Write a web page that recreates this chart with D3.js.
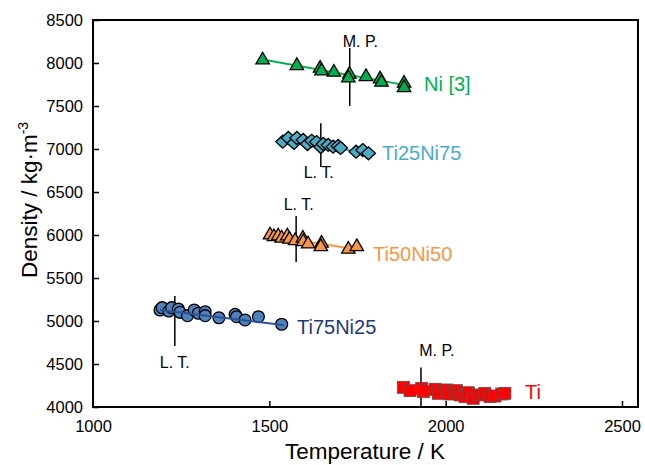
<!DOCTYPE html>
<html><head><meta charset="utf-8">
<script src="https://cdn.jsdelivr.net/npm/d3@7"></script>
<style>body{margin:0;background:#fff}svg{font-family:"Liberation Sans",Arial,sans-serif}</style>
</head><body><svg id="c" width="645" height="465"></svg>
<script>
const xTicks=[1000,1500,2000,2500];
const yTicks=[4000,4500,5000,5500,6000,6500,7000,7500,8000,8500];

const niT=[1481,1578,1644,1648,1683,1727,1724,1774,1814,1818,1882,1882];
const niD=[8035,7969,7938,7907,7892,7869,7826,7841,7814,7776,7764,7713];

const t25T=[1538,1554,1570,1578,1596,1608,1620,1634,1646,1653,1667,1681,1695,1702,1746,1765,1781];
const t25D=[7085,7128,7070,7128,7105,7058,7095,7081,7023,7058,7047,7027,7035,7012,6969,6988,6950];

const t50T=[1502,1513,1525,1535,1551,1557,1573,1595,1596,1610,1648,1646,1724,1748];
const t50D=[6000,5980,5988,5962,5988,5950,5934,5962,5922,5895,5903,5864,5834,5864];

const t75T=[1190,1196,1215,1223,1242,1247,1268,1287,1299,1318,1318,1357,1403,1407,1431,1469,1535];
const t75D=[5128,5155,5116,5155,5140,5101,5062,5128,5090,5108,5062,5038,5078,5050,5012,5050,4962];

const tiT=[1880,1899,1932,1937,1970,1979,2003,2012,2031,2041,2055,2064,2078,2092,2111,2126,2140,2159,2168];
const tiD=[4229,4190,4217,4178,4206,4159,4198,4151,4190,4140,4120,4166,4101,4140,4159,4120,4128,4151,4159];

// fit lines (endpoints)
const niFit=[[1481,8040],[1890,7740]];
const t25Fit=[[1538,7090],[1790,6950]];
const t50Fit=[[1500,5990],[1745,5835]];
const t75Fit=[[1190,5128],[1540,4953]];

// marker lines: [T, rhoTop, rhoBottom, label, labelT, labelRho]
const markers=[
 [1728,8175,7500,"M. P.",1758,8230],
 [1646,7300,6790,"L. T.",1640,6715],
 [1576,6220,5686,"L. T.",1583,6335],
 [1232,5290,4709,"L. T.",1232,4505],
 [1930,4460,4000,"M. P.",1975,4640]
];

const svg=d3.select("#c");
const x=d3.scaleLinear().domain([1000,2500]).range([93,622]);
const y=d3.scaleLinear().domain([4000,8500]).range([407,20]);
const xR=638;

// frame
svg.append("rect").attr("x",93).attr("y",20).attr("width",xR-93).attr("height",387)
 .attr("fill","none").attr("stroke","#000").attr("stroke-width",2);

const gx=svg.append("g").attr("transform","translate(0,407)")
 .call(d3.axisBottom(x).tickValues(xTicks).tickSize(-6).tickPadding(13).tickFormat(d3.format("d")));
const gy=svg.append("g").attr("transform","translate(93,0)")
 .call(d3.axisLeft(y).tickValues(yTicks).tickSize(-6).tickPadding(10).tickFormat(d3.format("d")));
[gx,gy].forEach(g=>{g.select(".domain").remove();g.selectAll("line").attr("stroke","#000").attr("stroke-width",1.5);
 g.selectAll("text").attr("font-size",16.5).attr("fill","#000").attr("font-family","Liberation Sans, Arial, sans-serif");});
gx.selectAll(".tick").filter(d=>d===1000).select("line").remove();

svg.append("text").attr("x",365).attr("y",459).attr("text-anchor","middle").attr("font-size",22.5).text("Temperature / K");
const yl=svg.append("text").attr("transform","translate(37,200) rotate(-90)").attr("text-anchor","middle").attr("font-size",22.5);
yl.append("tspan").text("Density / kg·m");
yl.append("tspan").attr("dy",-9).attr("font-size",14).text("-3");

function fitLine(f,c){svg.append("line").attr("x1",x(f[0][0])).attr("y1",y(f[0][1])).attr("x2",x(f[1][0])).attr("y2",y(f[1][1]))
 .attr("stroke",c).attr("stroke-width",2);}
function errs(T,D,e){
 T.forEach((t,i)=>{const cx=x(t),y1=y(D[i]+e),y2=y(D[i]-e);
  svg.append("line").attr("x1",cx).attr("x2",cx).attr("y1",y1).attr("y2",y2).attr("stroke","#999").attr("stroke-width",1);
  [y1,y2].forEach(yy=>svg.append("line").attr("x1",cx-3).attr("x2",cx+3).attr("y1",yy).attr("y2",yy).attr("stroke","#999").attr("stroke-width",1));});
}
function pts(T,D,type,size,fill){
 const sym=d3.symbol().type(type).size(size);
 T.forEach((t,i)=>svg.append("path").attr("d",sym()).attr("transform",`translate(${x(t)},${y(D[i])})`)
  .attr("fill",fill).attr("stroke","#000").attr("stroke-width",1.3));
}
function diamonds(T,D,fill){
 T.forEach((t,i)=>{const cx=x(t),cy=y(D[i]),w=7,h=6.5;
  svg.append("path").attr("d",`M${cx-w},${cy}L${cx},${cy-h}L${cx+w},${cy}L${cx},${cy+h}Z`).attr("fill",fill).attr("stroke","#000").attr("stroke-width",1.3);});
}
function squares(T,D,fill){
 T.forEach((t,i)=>{const cx=x(t),cy=y(D[i]);
  svg.append("rect").attr("x",cx-6).attr("y",cy-6).attr("width",12).attr("height",12).attr("fill",fill).attr("stroke","#555").attr("stroke-width",0.8);});
}

// markers
markers.forEach(m=>{
 svg.append("line").attr("x1",x(m[0])).attr("x2",x(m[0])).attr("y1",y(m[1])).attr("y2",y(m[2])).attr("stroke","#000").attr("stroke-width",1.5);
 svg.append("text").attr("x",x(m[4])).attr("y",y(m[5])).attr("text-anchor","middle").attr("font-size",16).attr("dominant-baseline","middle").text(m[3]);
});

// Ti
errs(tiT,tiD,40);
squares(tiT,tiD,"#ff0000");
// Ti75Ni25
pts(t75T,t75D,d3.symbolCircle,110,"#4f81bd");
fitLine(t75Fit,"#2a5192");
// Ti50Ni50
fitLine(t50Fit,"#f79646");
pts(t50T,t50D,d3.symbolTriangle,78,"#f79646");
// Ti25Ni75
errs(t25T,t25D,55);
fitLine(t25Fit,"#4bacc6");
diamonds(t25T,t25D,"#4bacc6");
// Ni
fitLine(niFit,"#00b050");
pts(niT,niD,d3.symbolTriangle,78,"#00b050");

const labels=[["Ni [3]",424,86,"#00b050"],["Ti25Ni75",382,155,"#4bacc6"],["Ti50Ni50",373,256,"#f79646"],["Ti75Ni25",297,329,"#1f3a78"],["Ti",525,394,"#ff0000"]];
labels.forEach(l=>svg.append("text").attr("x",l[1]).attr("y",l[2]).attr("dominant-baseline","middle").attr("font-size",20).attr("fill",l[3]).text(l[0]));
</script></body></html>
